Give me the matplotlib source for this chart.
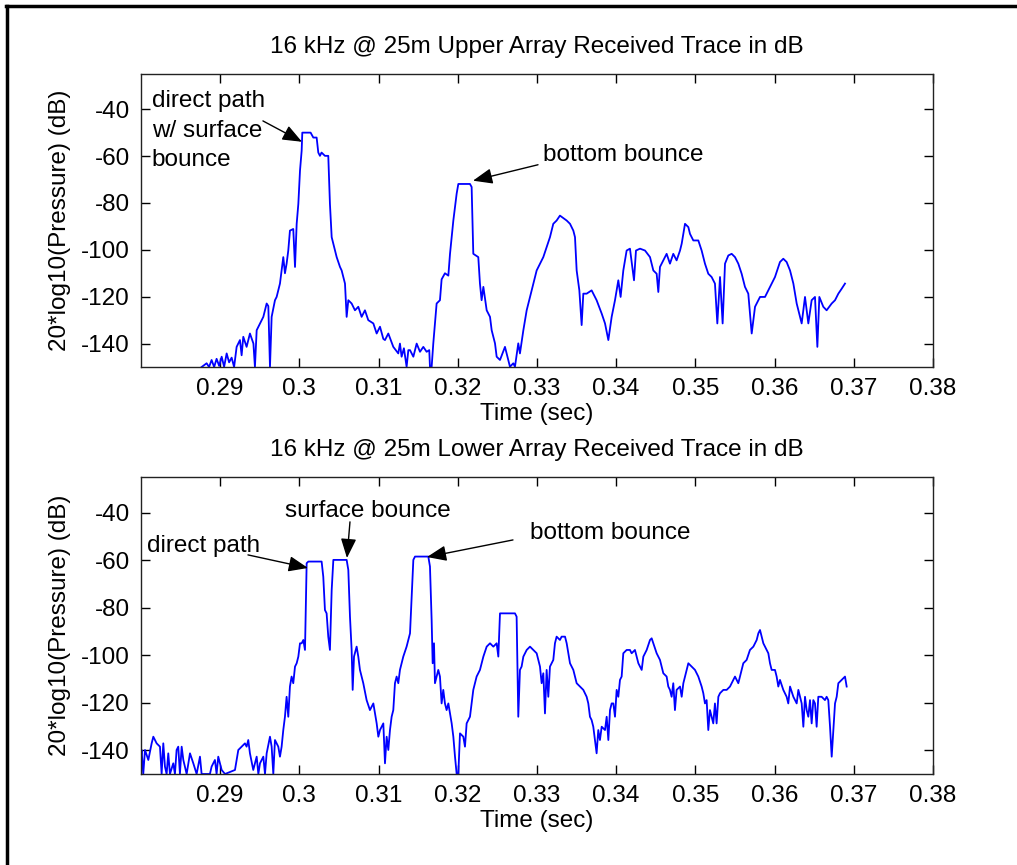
import matplotlib.pyplot as plt
from matplotlib.lines import Line2D

plt.rcParams['font.family'] = ['Liberation Sans', 'DejaVu Sans']
plt.rcParams['font.size'] = 17.5
plt.rcParams['axes.unicode_minus'] = False

# Upper array trace (time in s, level in dB)
upper_t = [0.28766, 0.28829, 0.28860, 0.28892, 0.28924, 0.28955, 0.28987, 0.29019, 0.29050, 0.29082,
           0.29113, 0.29145, 0.29176, 0.29208, 0.29250, 0.29271, 0.29292, 0.29334, 0.29376, 0.29420,
           0.29439, 0.29461, 0.29503, 0.29545, 0.29587, 0.29608, 0.29629, 0.29650, 0.29692, 0.29713,
           0.29755, 0.29797, 0.29818, 0.29839, 0.29860, 0.29881, 0.29923, 0.29945, 0.29966, 0.29987,
           0.30008, 0.30029, 0.30037, 0.30142, 0.30176, 0.30218, 0.30239, 0.30260, 0.30280, 0.30323,
           0.30365, 0.30386, 0.30408, 0.30429, 0.30471, 0.30513, 0.30534, 0.30576, 0.30597, 0.30618,
           0.30660, 0.30702, 0.30744, 0.30786, 0.30828, 0.30870, 0.30934, 0.30976, 0.31018, 0.31060,
           0.31081, 0.31123, 0.31186, 0.31249, 0.31270, 0.31291, 0.31320, 0.31354, 0.31376, 0.31397,
           0.31439, 0.31481, 0.31523, 0.31565, 0.31607, 0.31640, 0.31649, 0.31670, 0.31691, 0.31733,
           0.31775, 0.31796, 0.31838, 0.31881, 0.31902, 0.31944, 0.31986, 0.32007, 0.32154, 0.32175,
           0.32196, 0.32259, 0.32280, 0.32301, 0.32323, 0.32365, 0.32407, 0.32428, 0.32470, 0.32491,
           0.32533, 0.32596, 0.32617, 0.32659, 0.32701, 0.32722, 0.32764, 0.32785, 0.32828, 0.32870,
           0.32912, 0.32954, 0.32996, 0.33080, 0.33164, 0.33206, 0.33248, 0.33290, 0.33375, 0.33417,
           0.33459, 0.33480, 0.33501, 0.33535, 0.33564, 0.33585, 0.33627, 0.33690, 0.33753, 0.33817,
           0.33859, 0.33901, 0.33943, 0.33985, 0.34027, 0.34056, 0.34090, 0.34132, 0.34174, 0.34225,
           0.34250, 0.34301, 0.34364, 0.34427, 0.34469, 0.34511, 0.34532, 0.34553, 0.34616, 0.34637,
           0.34679, 0.34721, 0.34763, 0.34806, 0.34827, 0.34869, 0.34911, 0.34932, 0.34974, 0.35037,
           0.35079, 0.35121, 0.35163, 0.35205, 0.35247, 0.35277, 0.35311, 0.35344, 0.35374, 0.35416,
           0.35458, 0.35500, 0.35542, 0.35584, 0.35626, 0.35668, 0.35711, 0.35753, 0.35816, 0.35879,
           0.35921, 0.35963, 0.36005, 0.36068, 0.36110, 0.36152, 0.36195, 0.36237, 0.36279, 0.36321,
           0.36342, 0.36384, 0.36426, 0.36468, 0.36510, 0.36540, 0.36565, 0.36615, 0.36657, 0.36721,
           0.36763, 0.36805, 0.36847, 0.36889]
upper_db = [-150.0, -148.4, -150.0, -147.0, -150.0, -146.5, -149.5, -145.6, -149.9, -144.2,
            -148.0, -146.0, -150.0, -141.4, -138.5, -145.0, -137.1, -141.4, -135.7, -140.0,
            -150.0, -134.3, -131.4, -128.6, -122.9, -124.0, -150.0, -128.6, -121.5, -120.1,
            -114.4, -103.1, -110.0, -105.9, -100.3, -91.8, -91.1, -107.3, -88.9, -80.4,
            -66.2, -57.7, -50.0, -50.0, -52.1, -52.1, -58.5, -59.9, -58.5, -59.9,
            -59.9, -80.4, -94.6, -97.4, -103.1, -107.3, -108.8, -114.4, -128.6, -121.5,
            -122.9, -125.8, -124.3, -128.6, -125.8, -130.0, -131.4, -135.7, -132.8, -138.0,
            -138.5, -135.7, -141.4, -144.2, -140.0, -145.6, -142.0, -149.9, -142.8, -142.8,
            -145.6, -140.0, -143.5, -141.4, -143.5, -142.8, -150.0, -150.0, -139.9, -122.9,
            -121.5, -112.6, -110.0, -111.0, -101.7, -87.5, -76.0, -71.9, -71.9, -73.2,
            -101.7, -103.1, -114.4, -121.5, -115.8, -125.8, -128.6, -134.3, -139.9, -145.6,
            -147.0, -141.4, -144.2, -149.9, -148.4, -149.9, -139.9, -144.2, -134.3, -125.8,
            -120.1, -114.4, -108.8, -103.1, -94.6, -88.9, -87.5, -85.4, -87.5, -88.9,
            -91.8, -94.6, -108.8, -117.3, -132.1, -118.7, -118.7, -117.3, -121.5, -127.2,
            -131.4, -138.5, -128.6, -121.5, -113.0, -120.1, -108.8, -100.3, -99.5, -113.0,
            -100.3, -99.5, -100.3, -103.1, -108.8, -110.2, -118.0, -107.3, -103.1, -101.7,
            -105.9, -101.7, -104.5, -100.3, -97.4, -88.9, -90.3, -93.2, -96.0, -96.0,
            -100.3, -105.9, -110.2, -111.6, -114.4, -131.4, -111.6, -131.4, -105.9, -102.4,
            -101.7, -103.1, -105.9, -110.2, -115.8, -118.7, -135.7, -124.3, -120.1, -120.1,
            -117.3, -114.4, -111.6, -105.2, -103.8, -105.2, -108.8, -114.4, -122.9, -128.6,
            -131.4, -120.1, -131.4, -121.5, -120.1, -141.4, -120.1, -124.3, -125.8, -122.9,
            -121.5, -118.7, -116.6, -114.4]

# Lower array trace
lower_t = [0.28000, 0.28008, 0.28029, 0.28051, 0.28093, 0.28135, 0.28156, 0.28198, 0.28240, 0.28261,
           0.28282, 0.28303, 0.28324, 0.28345, 0.28366, 0.28408, 0.28429, 0.28450, 0.28471, 0.28492,
           0.28514, 0.28535, 0.28577, 0.28619, 0.28661, 0.28703, 0.28745, 0.28766, 0.28871, 0.28892,
           0.28934, 0.28955, 0.28976, 0.29019, 0.29061, 0.29187, 0.29229, 0.29271, 0.29313, 0.29334,
           0.29355, 0.29376, 0.29418, 0.29461, 0.29482, 0.29503, 0.29545, 0.29566, 0.29587, 0.29629,
           0.29650, 0.29671, 0.29692, 0.29734, 0.29755, 0.29776, 0.29797, 0.29818, 0.29839, 0.29860,
           0.29881, 0.29902, 0.29923, 0.29945, 0.29966, 0.29987, 0.30008, 0.30029, 0.30050, 0.30071,
           0.30092, 0.30113, 0.30281, 0.30302, 0.30323, 0.30344, 0.30365, 0.30386, 0.30408, 0.30429,
           0.30597, 0.30618, 0.30639, 0.30660, 0.30673, 0.30690, 0.30723, 0.30744, 0.30765, 0.30807,
           0.30849, 0.30891, 0.30934, 0.30976, 0.30997, 0.31018, 0.31060, 0.31081, 0.31102, 0.31123,
           0.31144, 0.31165, 0.31186, 0.31207, 0.31228, 0.31249, 0.31270, 0.31312, 0.31354, 0.31397,
           0.31418, 0.31439, 0.31460, 0.31628, 0.31649, 0.31670, 0.31683, 0.31700, 0.31712, 0.31754,
           0.31775, 0.31796, 0.31817, 0.31838, 0.31859, 0.31881, 0.31923, 0.31944, 0.31965, 0.31986,
           0.32007, 0.32028, 0.32070, 0.32091, 0.32112, 0.32154, 0.32196, 0.32238, 0.32280, 0.32323,
           0.32365, 0.32407, 0.32449, 0.32491, 0.32512, 0.32533, 0.32722, 0.32743, 0.32764, 0.32785,
           0.32806, 0.32828, 0.32870, 0.32912, 0.32954, 0.32996, 0.33038, 0.33059, 0.33080, 0.33101,
           0.33122, 0.33143, 0.33164, 0.33206, 0.33227, 0.33248, 0.33290, 0.33311, 0.33354, 0.33375,
           0.33417, 0.33459, 0.33501, 0.33543, 0.33585, 0.33627, 0.33648, 0.33669, 0.33690, 0.33711,
           0.33732, 0.33753, 0.33774, 0.33795, 0.33817, 0.33859, 0.33880, 0.33901, 0.33922, 0.33943,
           0.33964, 0.33985, 0.34006, 0.34027, 0.34048, 0.34069, 0.34090, 0.34132, 0.34174, 0.34195,
           0.34237, 0.34258, 0.34280, 0.34322, 0.34343, 0.34385, 0.34427, 0.34448, 0.34469, 0.34511,
           0.34553, 0.34595, 0.34637, 0.34658, 0.34679, 0.34700, 0.34721, 0.34742, 0.34763, 0.34806,
           0.34827, 0.34848, 0.34890, 0.34911, 0.34953, 0.34995, 0.35037, 0.35079, 0.35100, 0.35121,
           0.35142, 0.35163, 0.35184, 0.35226, 0.35247, 0.35268, 0.35290, 0.35311, 0.35353, 0.35395,
           0.35437, 0.35458, 0.35500, 0.35542, 0.35563, 0.35605, 0.35647, 0.35689, 0.35732, 0.35774,
           0.35795, 0.35816, 0.35858, 0.35900, 0.35921, 0.35942, 0.35963, 0.36005, 0.36026, 0.36047,
           0.36068, 0.36110, 0.36152, 0.36173, 0.36195, 0.36237, 0.36279, 0.36300, 0.36342, 0.36363,
           0.36384, 0.36405, 0.36426, 0.36447, 0.36468, 0.36489, 0.36510, 0.36531, 0.36552, 0.36594,
           0.36636, 0.36657, 0.36678, 0.36700, 0.36721, 0.36742, 0.36763, 0.36784, 0.36805, 0.36847,
           0.36889, 0.36910]
lower_db = [-142.7, -139.9, -150.0, -139.9, -144.1, -137.1, -134.3, -137.1, -138.5, -150.0,
            -137.1, -146.9, -150.0, -141.3, -150.0, -145.5, -150.0, -139.9, -138.5, -150.0,
            -138.5, -144.1, -150.0, -141.3, -145.5, -150.0, -142.7, -150.0, -150.0, -146.9,
            -144.1, -150.0, -142.7, -148.3, -150.0, -148.3, -139.9, -138.5, -137.1, -138.5,
            -135.7, -141.3, -148.3, -142.7, -150.0, -145.5, -142.7, -150.0, -141.3, -134.3,
            -138.5, -150.0, -135.7, -138.5, -142.7, -138.5, -131.5, -125.9, -117.5, -125.9,
            -113.2, -109.0, -111.8, -104.8, -103.4, -100.6, -95.0, -95.0, -93.6, -97.8,
            -61.3, -60.6, -60.6, -67.0, -81.0, -82.4, -92.2, -97.8, -72.6, -59.9,
            -59.9, -64.1, -83.8, -97.8, -114.6, -100.6, -96.4, -100.6, -106.2, -111.8,
            -118.9, -123.1, -120.3, -128.7, -134.3, -131.5, -128.7, -145.5, -134.3, -139.9,
            -131.5, -125.9, -123.1, -111.8, -109.0, -111.8, -106.2, -100.6, -96.4, -90.8,
            -75.4, -59.9, -58.5, -58.5, -62.7, -85.2, -103.4, -95.0, -111.8, -106.2,
            -109.0, -120.3, -114.6, -120.3, -123.1, -120.3, -128.7, -134.3, -142.7, -150.0,
            -150.0, -132.9, -134.3, -138.5, -128.7, -125.9, -114.6, -109.0, -106.2, -100.6,
            -96.4, -95.0, -96.4, -95.0, -100.6, -82.4, -82.4, -83.8, -125.9, -106.2,
            -104.8, -100.6, -97.8, -96.4, -97.8, -99.2, -104.8, -111.8, -107.6, -124.5,
            -106.2, -117.5, -104.8, -102.0, -95.0, -92.2, -93.6, -92.2, -92.2, -95.0,
            -103.4, -106.2, -111.8, -113.2, -114.6, -117.5, -120.3, -125.9, -127.3, -130.1,
            -135.7, -141.3, -131.5, -135.7, -130.1, -131.5, -125.9, -135.7, -123.1, -120.3,
            -120.3, -125.9, -114.6, -117.5, -110.4, -109.0, -99.2, -97.8, -97.8, -99.2,
            -97.8, -100.6, -103.4, -106.2, -100.6, -97.8, -93.6, -92.9, -95.0, -99.2,
            -102.0, -107.6, -109.0, -113.2, -114.6, -117.5, -111.8, -123.1, -114.6, -113.2,
            -117.5, -111.8, -106.2, -103.4, -104.8, -106.2, -109.0, -113.2, -116.0, -120.3,
            -118.9, -131.5, -123.1, -128.7, -120.3, -128.7, -117.5, -116.0, -114.6, -114.6,
            -113.2, -111.8, -109.0, -111.8, -109.0, -103.4, -102.0, -97.8, -96.4, -93.6,
            -90.8, -89.4, -95.0, -97.8, -99.2, -103.4, -106.2, -106.2, -109.0, -113.2,
            -110.4, -114.6, -117.5, -120.3, -113.2, -117.5, -120.3, -114.6, -120.3, -130.1,
            -117.5, -123.1, -125.9, -118.9, -128.7, -118.9, -120.3, -130.1, -117.5, -117.5,
            -118.9, -117.5, -118.9, -130.1, -142.7, -131.5, -120.3, -117.5, -111.8, -110.4,
            -109.0, -113.2]

x_ticks = [0.29, 0.30, 0.31, 0.32, 0.33, 0.34, 0.35, 0.36, 0.37, 0.38]
x_tick_labels = ['0.29', '0.3', '0.31', '0.32', '0.33', '0.34', '0.35', '0.36', '0.37', '0.38']
y_ticks = [-140, -120, -100, -80, -60, -40]

titles = ['16 kHz @ 25m Upper Array Received Trace in dB',
          '16 kHz @ 25m Lower Array Received Trace in dB']

FS = 17.5


def ustaw_os(ax, tytul):
    """Wyglad osi w stylu MATLAB-a."""
    ax.set_xlim(0.28, 0.38)
    ax.set_ylim(-150, -25)
    ax.set_xticks(x_ticks)
    ax.set_xticklabels(x_tick_labels)
    ax.set_yticks(y_ticks)
    ax.tick_params(direction='in', length=6.5, width=1, top=True, right=True,
                   labelsize=FS, pad=8)
    for s in ax.spines.values():
        s.set_linewidth(1)
        s.set_color('#222222')
    ax.set_title(tytul, fontsize=FS, pad=15)
    ax.set_xlabel('Time (sec)', fontsize=FS, labelpad=2)
    ax.set_ylabel('20*log10(Pressure) (dB)', fontsize=FS, labelpad=7)


def strzalka(ax, glowa, ogon):
    ax.annotate('', xy=glowa, xytext=ogon,
                arrowprops=dict(arrowstyle='-|>,head_length=0.7,head_width=0.28',
                                color='black', lw=1, mutation_scale=17,
                                shrinkA=0, shrinkB=0))


fig = plt.figure(figsize=(10.17, 8.65), dpi=100)
ax1 = fig.add_axes([0.1386, 0.5757, 0.7788, 0.3387])
ax2 = fig.add_axes([0.1386, 0.1052, 0.7788, 0.3434])

# 1. Gorna antena
ax1.plot(upper_t, upper_db, color='#0000ff', lw=1.3)
ustaw_os(ax1, titles[0])
ax1.text(0.28135, -32.0, 'direct path\nw/ surface\nbounce', fontsize=FS,
         va='top', ha='left', linespacing=1.42)
strzalka(ax1, (0.30033, -53.9), (0.29540, -45.0))
ax1.text(0.33080, -62.3, 'bottom bounce', fontsize=FS, va='baseline', ha='left')
strzalka(ax1, (0.32192, -70.5), (0.33013, -63.7))

# 2. Dolna antena
ax2.plot(lower_t, lower_db, color='#0000ff', lw=1.3)
ustaw_os(ax2, titles[1])
ax2.text(0.28076, -56.6, 'direct path', fontsize=FS, va='baseline', ha='left')
strzalka(ax2, (0.30109, -63.3), (0.29351, -57.8))
ax2.text(0.29818, -41.7, 'surface bounce', fontsize=FS, va='baseline', ha='left')
strzalka(ax2, (0.30601, -59.1), (0.30639, -43.9))
ax2.text(0.32912, -51.2, 'bottom bounce', fontsize=FS, va='baseline', ha='left')
strzalka(ax2, (0.31611, -58.7), (0.32697, -51.5))

# Ramka wokol rysunku (gora i lewa strona)
fig.add_artist(Line2D([0.006, 1.0], [0.9925, 0.9925], color='black', lw=2.5,
                      transform=fig.transFigure))
fig.add_artist(Line2D([0.0065, 0.0065], [0.0, 0.9925], color='black', lw=2.5,
                      transform=fig.transFigure))

plt.savefig('out.png', dpi=100)
plt.close()
